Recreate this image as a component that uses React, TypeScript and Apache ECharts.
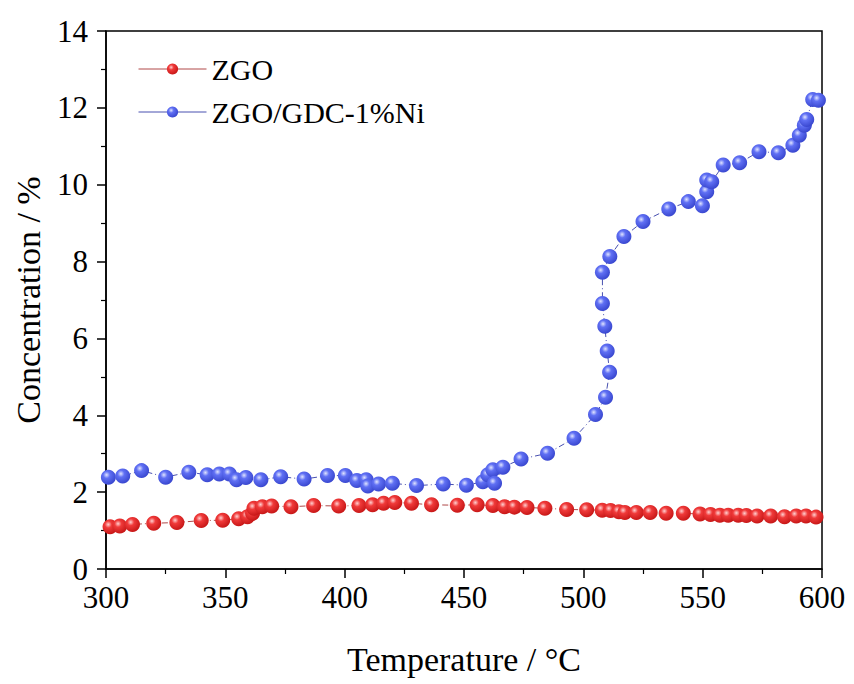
import React, { useEffect, useRef } from "react";
import * as echarts from "echarts";

const zgoT = [301.7, 305.8, 311.1, 320, 329.7, 339.9, 348.9, 355.6, 359.3, 361.4, 362, 365.5, 369.4, 377.5, 387, 397.5, 406, 411.7, 416.3, 421, 428, 436.4, 447.2, 455.5, 462.1, 467, 471.1, 476.4, 483.9, 493, 501.4, 507.9, 511.4, 514.9, 517.4, 522.2, 528, 534.7, 541.9, 548.9, 553.3, 557.2, 560.7, 564.9, 568.3, 572.8, 578.5, 584.3, 589.2, 593.3, 597.5];
const zgoC = [1.10, 1.12, 1.16, 1.19, 1.21, 1.26, 1.27, 1.31, 1.36, 1.45, 1.58, 1.62, 1.64, 1.62, 1.65, 1.64, 1.65, 1.67, 1.71, 1.73, 1.71, 1.67, 1.66, 1.67, 1.65, 1.62, 1.61, 1.60, 1.58, 1.55, 1.54, 1.53, 1.52, 1.49, 1.47, 1.47, 1.47, 1.45, 1.45, 1.43, 1.42, 1.40, 1.40, 1.40, 1.39, 1.38, 1.38, 1.36, 1.38, 1.38, 1.35];

const niT = [301, 307, 314.9, 325, 334.7, 342.4, 347.5, 351.7, 354.7, 358.6, 364.9, 373.2, 383, 392.8, 400.3, 405.1, 409, 409.7, 414.2, 420, 430.1, 441.3, 451, 457.9, 460, 462.1, 462.8, 466.3, 473.9, 485, 496.1, 505.1, 509.3, 511, 510, 509, 508, 508, 511.1, 517, 525, 535.8, 544, 549.9, 551.7, 551.7, 553.8, 558.6, 565.5, 573.6, 581.7, 587.8, 590.5, 592.6, 593.6, 596.1, 598.5];
const niC = [2.39, 2.42, 2.56, 2.39, 2.52, 2.45, 2.47, 2.47, 2.32, 2.38, 2.32, 2.40, 2.34, 2.43, 2.43, 2.30, 2.32, 2.16, 2.21, 2.23, 2.17, 2.21, 2.18, 2.27, 2.45, 2.58, 2.23, 2.65, 2.86, 3.01, 3.40, 4.02, 4.47, 5.12, 5.67, 6.32, 6.91, 7.72, 8.13, 8.65, 9.04, 9.37, 9.56, 9.45, 9.82, 10.12, 10.08, 10.51, 10.57, 10.86, 10.83, 11.03, 11.29, 11.55, 11.70, 12.22, 12.20];

const seriesNames = ["ZGO", "ZGO/GDC-1%Ni"];

const FONT = "Liberation Serif";

function ball(light: string, mid: string, dark: string) {
  return new echarts.graphic.RadialGradient(0.38, 0.35, 0.65, [
    { offset: 0, color: light },
    { offset: 0.35, color: mid },
    { offset: 1, color: dark },
  ]);
}

export default function App() {
  const ref = useRef<HTMLDivElement>(null);
  useEffect(() => {
    if (!ref.current) return;
    const chart = echarts.init(ref.current, undefined, { renderer: "svg" });
    const redFill = ball("#ffd0d0", "#f03a3a", "#c81818");
    const blueFill = ball("#e0e4ff", "#6070f4", "#3a48d0");
    const zgoData = zgoT.map((t, i) => [t, zgoC[i]]);
    const niData = niT.map((t, i) => [t, niC[i]]);
    chart.setOption({
      animation: false,
      backgroundColor: "#ffffff",
      textStyle: { fontFamily: FONT },
      grid: {
        left: 106,
        right: 32,
        top: 31,
        bottom: 115,
        show: true,
        borderColor: "#000",
        borderWidth: 1.5,
      },
      legend: {
        orient: "vertical",
        left: 133,
        top: 49,
        itemWidth: 68,
        itemHeight: 14,
        itemGap: 13,
        lineStyle: { type: "solid", width: 1 },
        textStyle: { fontFamily: FONT, fontSize: 30, color: "#000", lineHeight: 30 },
        data: seriesNames,
      },
      xAxis: {
        type: "value",
        min: 300,
        max: 600,
        interval: 50,
        name: "Temperature / °C",
        nameLocation: "middle",
        nameGap: 73,
        nameTextStyle: { fontFamily: FONT, fontSize: 34, color: "#000" },
        axisLine: { lineStyle: { color: "#000", width: 1.5 } },
        axisTick: { inside: false, length: 9, lineStyle: { color: "#000", width: 1.5 } },
        minorTick: { show: true, splitNumber: 2, length: 5, lineStyle: { color: "#000", width: 1.2 } },
        axisLabel: { fontFamily: FONT, fontSize: 31, color: "#000", margin: 13 },
        splitLine: { show: false },
      },
      yAxis: {
        type: "value",
        min: 0,
        max: 14,
        interval: 2,
        name: "Concentration / %",
        nameLocation: "middle",
        nameGap: 61,
        nameTextStyle: { fontFamily: FONT, fontSize: 34, color: "#000" },
        axisLine: { lineStyle: { color: "#000", width: 1.5 } },
        axisTick: { inside: false, length: 9, lineStyle: { color: "#000", width: 1.5 } },
        minorTick: { show: true, splitNumber: 2, length: 5, lineStyle: { color: "#000", width: 1.2 } },
        axisLabel: { fontFamily: FONT, fontSize: 31, color: "#000", margin: 18 },
        splitLine: { show: false },
      },
      series: [
        {
          name: seriesNames[0],
          type: "line",
          data: zgoData,
          symbol: "circle",
          symbolSize: 15,
          itemStyle: { color: redFill },
          lineStyle: { color: "#b04848", width: 1, type: [6, 3, 1, 3] },
          z: 3,
        },
        {
          name: seriesNames[1],
          type: "line",
          data: niData,
          symbol: "circle",
          symbolSize: 15,
          itemStyle: { color: blueFill },
          lineStyle: { color: "#4850b0", width: 1, type: [6, 3, 1, 3] },
          z: 2,
        },
      ],
    });
    return () => chart.dispose();
  }, []);
  return (
    <div
      ref={ref}
      style={{ width: 854, height: 684, position: "absolute", left: 0, top: 0 }}
    />
  );
}
